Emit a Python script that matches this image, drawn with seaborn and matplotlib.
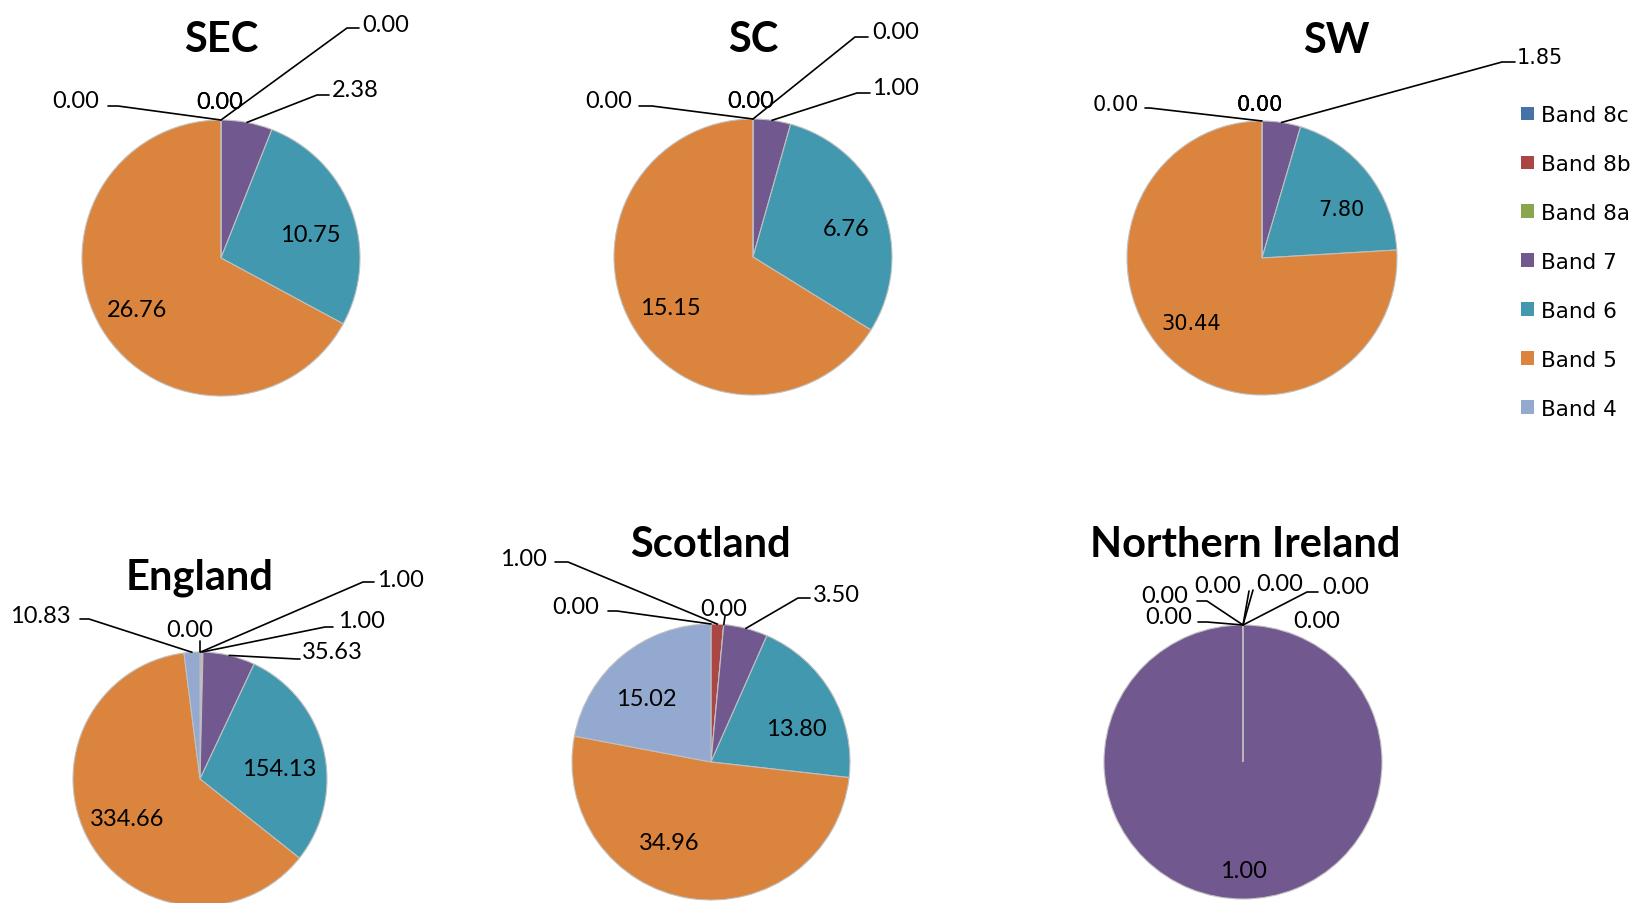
import matplotlib
matplotlib.use("Agg")
import matplotlib.pyplot as plt
from matplotlib.lines import Line2D
import numpy as np
import seaborn as sns

sns.set_theme(style="white")
plt.rcParams['font.family'] = ['Lato', 'DejaVu Sans']
plt.rcParams['text.color'] = 'black'

# ---------------- data ----------------
bands = ['Band 8c', 'Band 8b', 'Band 8a', 'Band 7', 'Band 6', 'Band 5', 'Band 4']
band_colors = ['#4572A7', '#AA4643', '#89A54E', '#71588F', '#4198AF', '#DB843D', '#93A9CF']

regions = ['SEC', 'SC', 'SW', 'England', 'Scotland', 'Northern Ireland']
sec_vals = [0.00, 0.00, 0.00, 2.38, 10.75, 26.76, 0.00]
sc_vals = [0.00, 0.00, 0.00, 1.00, 6.76, 15.15, 0.00]
sw_vals = [0.00, 0.00, 0.00, 1.85, 7.80, 30.44, 0.00]
england_vals = [0.00, 1.00, 1.00, 35.63, 154.13, 334.66, 10.83]
scotland_vals = [0.00, 1.00, 0.00, 3.50, 13.80, 34.96, 15.02]
ni_vals = [0.00, 0.00, 0.00, 1.00, 0.00, 0.00, 0.00]
region_vals = [sec_vals, sc_vals, sw_vals, england_vals, scotland_vals, ni_vals]

# ---------------- layout (pixels, y from top) ----------------
W, H = 1632, 904

def fx(x):
    return x / W

def fy(y):
    return 1 - y / H

# centre, radius x/y, title pos, label font
panels = {
    'SEC': dict(c=(221, 259), r=(139, 138), title=(221, 52), lab=('Lato', 17)),
    'SC': dict(c=(753, 258), r=(139, 138), title=(753, 52), lab=('Lato', 17)),
    'SW': dict(c=(1262, 259), r=(135, 137), title=(1336, 53), lab=('DejaVu Sans', 15)),
    'England': dict(c=(200, 780), r=(127, 127), title=(200, 590), lab=('Lato', 17)),
    'Scotland': dict(c=(711, 763), r=(139, 138), title=(710, 557), lab=('Lato', 17)),
    'Northern Ireland': dict(c=(1243, 763), r=(139, 137), title=(1245, 557), lab=('Lato', 17)),
}

# inside labels: band index -> text centre
inside = {
    'SEC': {4: (310, 233), 5: (137, 309)},
    'SC': {4: (846, 228), 5: (670, 307)},
    'SW': {4: (1341, 208), 5: (1191, 323)},
    'England': {4: (279, 768), 5: (127, 818)},
    'Scotland': {4: (796, 728), 5: (669, 842), 6: (646, 698)},
    'Northern Ireland': {3: (1243, 870)},
}

# outside labels: band index -> (x, baseline, ha, leader points after the anchor)
outside = {
    'SEC': {0: (220, 109, 'center', []), 1: (220, 109, 'center', []),
            2: (362, 32, 'left', [(347, 29), (359, 29)]),
            3: (332, 97, 'left', [(317, 96), (329, 96)]),
            6: (99, 108, 'right', [(118, 107), (108, 107)])},
    'SC': {0: (751, 108, 'center', []), 1: (751, 108, 'center', []),
           2: (872, 39, 'left', [(855, 38), (868, 38)]),
           3: (872, 95, 'left', [(857, 94), (870, 94)]),
           6: (632, 108, 'right', [(652, 107), (639, 107)])},
    'SW': {0: (1260, 111, 'center', []), 1: (1260, 111, 'center', []), 2: (1260, 111, 'center', []),
           3: (1517, 64, 'left', [(1502, 63), (1515, 63)]),
           6: (1139, 111, 'right', [(1150, 109), (1145, 109)])},
    'England': {0: (190, 637, 'center', [(200, 642)]),
                1: (377, 587, 'left', [(363, 583), (374, 583)]),
                2: (338, 628, 'left', [(325, 628), (333, 628)]),
                3: (302, 659, 'left', [(297, 660), (300, 660)]),
                6: (71, 623, 'right', [(89, 620), (80, 620)])},
    'Scotland': {0: (599, 614, 'right', [(617, 612), (608, 612)]),
                 1: (547, 566, 'right', [(568, 563), (555, 563)]),
                 2: (724, 616, 'center', [(725, 617)]),
                 3: (813, 602, 'left', [(798, 599), (810, 599)])},
    'Northern Ireland': {0: (1188, 603, 'right', [(1207, 602), (1197, 602)]),
                         1: (1192, 624, 'right', [(1207, 623), (1198, 623)]),
                         2: (1218, 593, 'center', [(1249, 592)]),
                         4: (1256, 591, 'left', [(1253, 591)]),
                         5: (1322, 594, 'left', [(1307, 593), (1318, 593)]),
                         6: (1293, 628, 'left', [])},
}

fig = plt.figure(figsize=(W / 100, H / 100), dpi=100)
palette = sns.color_palette(band_colors)

wedges_all = None
for name, vals in zip(regions, region_vals):
    p = panels[name]
    cx, cy = p['c']
    rx, ry = p['r']
    ax = fig.add_axes([fx(cx - rx), fy(cy + ry), 2 * rx / W, 2 * ry / H])
    wedges, _ = ax.pie(vals, colors=palette, startangle=90, counterclock=False,
                       wedgeprops=dict(edgecolor='#c0c0c0', linewidth=0.8))
    ax.set_aspect('auto')
    ax.set_xlim(-1, 1)
    ax.set_ylim(-1, 1)
    ax.axis('off')
    if wedges_all is None:
        wedges_all = wedges

    tx, ty = p['title']
    fig.text(fx(tx), fy(ty), name, ha='center', va='baseline',
             fontsize=30, fontweight='bold', family=['Lato', 'DejaVu Sans'])

    fam, fs = p['lab']
    half_digit = 0.36 * fs * 100 / 72
    out = outside[name]
    inn = inside[name]
    for i, (w, v) in enumerate(zip(wedges, vals)):
        mid = np.deg2rad((w.theta1 + w.theta2) / 2)
        txt = f'{v:.2f}'
        if i in out:
            x, yb, ha, pts = out[i]
            fig.text(fx(x), fy(yb), txt, ha=ha, va='baseline', fontsize=fs, family=fam)
            if pts:
                ax_pt = (cx + rx * np.cos(mid), cy - ry * np.sin(mid))
                xs = [ax_pt[0]] + [q[0] for q in pts]
                ys = [ax_pt[1]] + [q[1] for q in pts]
                fig.add_artist(Line2D([fx(a) for a in xs], [fy(b) for b in ys],
                                      transform=fig.transFigure, color='black', lw=1.2))
        elif i in inn:
            x, yc = inn[i]
            fig.text(fx(x), fy(yc + half_digit), txt, ha='center', va='baseline',
                     fontsize=fs, family=fam)

leg = fig.legend(wedges_all, bands, loc='upper left', bbox_to_anchor=(fx(1521), fy(106)),
                 frameon=False, borderpad=0, borderaxespad=0, handlelength=0.6,
                 handleheight=0.6, handletextpad=0.33, labelspacing=1.345,
                 prop=dict(family='DejaVu Sans', size=15.5))
for h in leg.legend_handles:
    h.set_edgecolor('none')

fig.savefig('out.png', dpi=100)
